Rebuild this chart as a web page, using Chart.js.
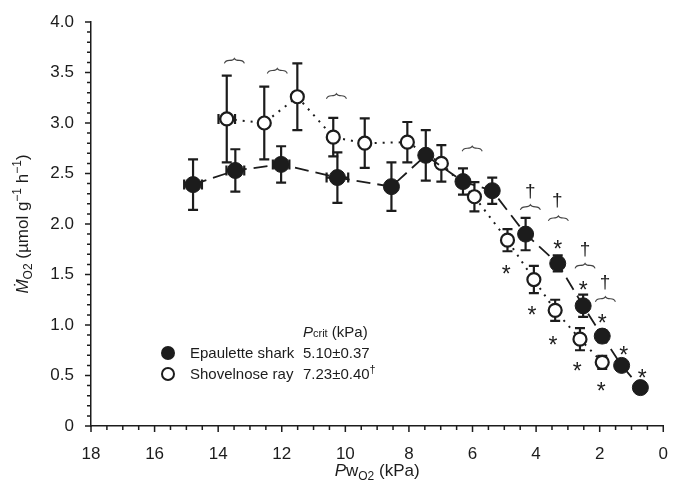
<!DOCTYPE html>
<html>
<head>
<meta charset="utf-8">
<script src="https://cdn.jsdelivr.net/npm/chart.js@4/dist/chart.umd.min.js"></script>
<style>
  html, body { margin: 0; padding: 0; background: #fff; }
  #wrap { width: 678px; height: 491px; }
</style>
</head>
<body>
<div id="wrap"><canvas id="chart" width="678" height="491"></canvas></div>
<script>
// Epaulette shark (filled)
const sharkX = [14.79, 13.46, 12.02, 10.25, 8.55, 7.47, 6.30, 5.38, 4.33, 3.32, 2.52, 1.92, 1.31, 0.72];
const sharkY = [2.39, 2.53, 2.59, 2.46, 2.37, 2.68, 2.42, 2.33, 1.90, 1.61, 1.19, 0.89, 0.60, 0.38];
const sharkYErr = [0.25, 0.21, 0.18, 0.25, 0.24, 0.25, 0.13, 0.13, 0.16, 0.08, 0.11, 0.06, 0.04, 0.05];
const sharkXErr = [0.28, 0.28, 0.26, 0.34, 0.1, 0, 0.1, 0.15, 0, 0, 0, 0, 0, 0];

// Shovelnose ray (open)
const rayX = [13.73, 12.55, 11.51, 10.38, 9.39, 8.05, 6.98, 5.94, 4.90, 4.07, 3.40, 2.62, 1.92];
const rayY = [3.04, 3.00, 3.26, 2.86, 2.80, 2.81, 2.60, 2.27, 1.84, 1.45, 1.145, 0.86, 0.63];
const rayYErr = [0.43, 0.36, 0.33, 0.19, 0.245, 0.2, 0.18, 0.145, 0.11, 0.135, 0.105, 0.11, 0.065];
const rayXErr = [0.26, 0, 0, 0.12, 0, 0, 0, 0.1, 0, 0, 0, 0, 0];

// significance marks
const starX = [3.32, 2.52, 1.92, 1.24, 0.66, 4.94, 4.13, 3.47, 2.71, 1.95];
const starY = [1.80, 1.40, 1.07, 0.75, 0.52, 1.55, 1.15, 0.85, 0.59, 0.40];
const daggerX = [4.18, 3.33, 2.46, 1.83];
const daggerY = [2.34, 2.25, 1.76, 1.44];
const braceX = [13.49, 12.14, 10.28, 6.01, 4.18, 3.30, 2.46, 1.82];
const braceY = [3.61, 3.51, 3.26, 2.74, 2.16, 2.05, 1.58, 1.25];

const xTicks = [18, 16, 14, 12, 10, 8, 6, 4, 2, 0];
const yTicks = [0, 0.5, 1.0, 1.5, 2.0, 2.5, 3.0, 3.5, 4.0];

const ink = '#1c1c1c';
const FONT = '"Liberation Sans", Arial, Helvetica, sans-serif';

function pts(xs, ys) {
  return xs.map((x, i) => ({ x: x, y: ys[i] }));
}

// draw a line of mixed text: parts = [[text, italic, shift, scale]]
function richText(ctx, parts, x, y, size, align) {
  let total = 0;
  parts.forEach(p => {
    ctx.font = (p[1] ? 'italic ' : '') + Math.round(size * (p[3] || 1)) + 'px ' + FONT;
    total += ctx.measureText(p[0]).width;
  });
  let cx = align === 'center' ? x - total / 2 : x;
  ctx.textAlign = 'left';
  ctx.textBaseline = 'alphabetic';
  parts.forEach(p => {
    ctx.font = (p[1] ? 'italic ' : '') + Math.round(size * (p[3] || 1)) + 'px ' + FONT;
    ctx.fillText(p[0], cx, y + (p[2] || 0));
    cx += ctx.measureText(p[0]).width;
  });
}

const errorBars = {
  id: 'errorBars',
  beforeDatasetsDraw(chart) {
    const ctx = chart.ctx;
    const xs = chart.scales.x, ys = chart.scales.y;
    const sets = [[sharkX, sharkY, sharkYErr, sharkXErr], [rayX, rayY, rayYErr, rayXErr]];
    ctx.save();
    ctx.strokeStyle = ink;
    ctx.lineWidth = 2.2;
    sets.forEach(s => {
      s[0].forEach((xv, i) => {
        const px = xs.getPixelForValue(xv);
        const py = ys.getPixelForValue(s[1][i]);
        const e = s[2][i];
        if (e > 0) {
          const t = ys.getPixelForValue(s[1][i] + e);
          const b = ys.getPixelForValue(s[1][i] - e);
          ctx.beginPath();
          ctx.moveTo(px, t); ctx.lineTo(px, b);
          ctx.moveTo(px - 5, t); ctx.lineTo(px + 5, t);
          ctx.moveTo(px - 5, b); ctx.lineTo(px + 5, b);
          ctx.stroke();
        }
        const h = s[3][i];
        if (h > 0) {
          const l = xs.getPixelForValue(xv + h);
          const r = xs.getPixelForValue(xv - h);
          ctx.beginPath();
          ctx.moveTo(l, py); ctx.lineTo(r, py);
          ctx.moveTo(l, py - 5); ctx.lineTo(l, py + 5);
          ctx.moveTo(r, py - 5); ctx.lineTo(r, py + 5);
          ctx.stroke();
        }
      });
    });
    ctx.restore();
  }
};

const extras = {
  id: 'extras',
  afterDraw(chart) {
    const ctx = chart.ctx;
    const xs = chart.scales.x, ys = chart.scales.y;
    const area = chart.chartArea;
    ctx.save();
    ctx.strokeStyle = ink;
    ctx.fillStyle = ink;
    ctx.lineWidth = 1.5;

    // axis ticks (outside), minor ones too
    ctx.beginPath();
    for (let v = 0; v <= 18.001; v += 0.5) {
      const px = xs.getPixelForValue(v);
      const len = Math.abs(v % 2) < 0.01 ? 6 : 4;
      ctx.moveTo(px, area.bottom); ctx.lineTo(px, area.bottom + len);
    }
    for (let v = 0; v <= 4.001; v += 0.1) {
      const py = ys.getPixelForValue(v);
      const major = Math.abs((v * 10) % 5) < 0.01 || Math.abs((v * 10) % 5 - 5) < 0.01;
      const len = major ? 6 : 4;
      ctx.moveTo(area.left, py); ctx.lineTo(area.left - len, py);
    }
    ctx.stroke();

    // stars
    ctx.font = '23px ' + FONT;
    ctx.textAlign = 'center';
    ctx.textBaseline = 'alphabetic';
    starX.forEach((x, i) => {
      ctx.fillText('*', xs.getPixelForValue(x), ys.getPixelForValue(starY[i]) + 13);
    });
    // daggers
    ctx.font = '19px ' + FONT;
    daggerX.forEach((x, i) => {
      ctx.fillText('\u2020', xs.getPixelForValue(x), ys.getPixelForValue(daggerY[i]) + 7);
    });
    // braces
    ctx.lineWidth = 1.1;
    ctx.strokeStyle = '#444';
    braceX.forEach((x, i) => {
      const px = xs.getPixelForValue(x);
      const py = ys.getPixelForValue(braceY[i]);
      ctx.beginPath();
      ctx.moveTo(px - 10, py + 2);
      ctx.quadraticCurveTo(px - 9, py - 1, px - 5, py - 1);
      ctx.quadraticCurveTo(px - 1, py - 1, px, py - 3);
      ctx.quadraticCurveTo(px + 1, py - 1, px + 5, py - 1);
      ctx.quadraticCurveTo(px + 9, py - 1, px + 10, py + 2);
      ctx.stroke();
    });

    // axis titles
    ctx.fillStyle = ink;
    richText(ctx, [['P', true], ['w', false], ['O2', false, 4, 0.72], [' (kPa)', false]],
      (area.left + area.right) / 2, 476, 17, 'center');
    ctx.save();
    ctx.translate(28, (area.top + area.bottom) / 2);
    ctx.rotate(-Math.PI / 2);
    richText(ctx, [['\u1E40', true], ['O2', false, 4, 0.72], [' (\u00B5mol g', false], ['\u22121', false, -7, 0.72],
      [' h', false], ['\u22121', false, -7, 0.72], [')', false]], 0, 0, 17, 'center');
    ctx.restore();

    // legend
    ctx.lineWidth = 2;
    ctx.strokeStyle = ink;
    ctx.beginPath(); ctx.arc(168, 353, 7, 0, Math.PI * 2); ctx.fill();
    ctx.beginPath(); ctx.arc(168, 374, 6, 0, Math.PI * 2);
    ctx.fillStyle = '#fff'; ctx.fill(); ctx.stroke();
    ctx.fillStyle = ink;
    richText(ctx, [['P', true], ['crit', false, 0, 0.7], [' (kPa)', false]], 303, 337, 15);
    richText(ctx, [['Epaulette shark', false]], 190, 358, 15);
    richText(ctx, [['5.10\u00B10.37', false]], 303, 358, 15);
    richText(ctx, [['Shovelnose ray', false]], 190, 379, 15);
    richText(ctx, [['7.23\u00B10.40', false], ['\u2020', false, -6, 0.7]], 303, 379, 15);
    ctx.restore();
  }
};

new Chart(document.getElementById('chart'), {
  type: 'scatter',
  data: {
    datasets: [{
      label: 'Epaulette shark',
      data: pts(sharkX, sharkY),
      showLine: true,
      borderColor: ink,
      borderWidth: 1.8,
      borderDash: [14, 7],
      pointRadius: 8,
      pointBackgroundColor: ink,
      pointBorderColor: ink,
      pointBorderWidth: 1
    }, {
      label: 'Shovelnose ray',
      data: pts(rayX, rayY),
      showLine: true,
      borderColor: ink,
      borderWidth: 2,
      borderDash: [2, 6],
      pointRadius: 6.5,
      pointBackgroundColor: '#fff',
      pointBorderColor: ink,
      pointBorderWidth: 2.2
    }]
  },
  options: {
    responsive: false,
    animation: false,
    layout: { padding: { left: 30, top: 22, right: 8, bottom: 0 } },
    plugins: { legend: { display: false }, tooltip: { enabled: false } },
    scales: {
      x: {
        type: 'linear',
        reverse: true,
        min: 0,
        max: 18,
        afterBuildTicks: s => { s.ticks = xTicks.map(v => ({ value: v })); },
        afterFit: s => { s.height = 65; },
        grid: { display: false },
        border: { display: true, color: ink, width: 1.5 },
        ticks: { color: ink, font: { size: 17, family: FONT }, padding: 10, maxRotation: 0 }
      },
      y: {
        min: 0,
        max: 4,
        afterBuildTicks: s => { s.ticks = yTicks.map(v => ({ value: v })); },
        afterFit: s => { s.width = 61; },
        grid: { display: false },
        border: { display: true, color: ink, width: 1.5 },
        ticks: {
          color: ink, font: { size: 17, family: FONT }, padding: 9,
          callback: v => v === 0 ? '0' : v.toFixed(1)
        }
      }
    }
  },
  plugins: [errorBars, extras]
});
</script>
</body>
</html>
